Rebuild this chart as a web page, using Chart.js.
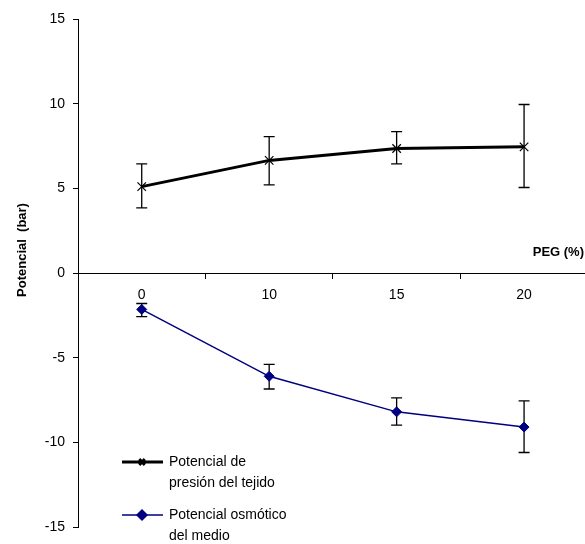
<!DOCTYPE html>
<html>
<head>
<meta charset="utf-8">
<script src="https://cdn.jsdelivr.net/npm/chart.js@4.4.1/dist/chart.umd.min.js"></script>
<style>
html, body { margin: 0; padding: 0; background: #fff; overflow: hidden; }
canvas { display: block; }
</style>
</head>
<body>
<canvas id="potChart" width="595" height="544"></canvas>
<script>
// PEG (%) categories
const pegLabels = ["0", "10", "15", "20"];

// Potencial de presión del tejido (bar)
const presion = [5.1, 6.65, 7.35, 7.45];
const presionLow = [3.85, 5.2, 6.45, 5.05];
const presionHigh = [6.45, 8.05, 8.35, 9.95];

// Potencial osmótico del medio (bar)
const osmotico = [-2.15, -6.1, -8.2, -9.1];
const osmoticoLow = [-2.58, -6.85, -8.98, -10.6];
const osmoticoHigh = [-1.8, -5.4, -7.37, -7.55];

const yTicks = [-15, -10, -5, 0, 5, 10, 15];

const FONT = "'Liberation Sans', Arial, sans-serif";

// error bars, drawn under the markers
const errorBars = {
  id: "errorBars",
  beforeDatasetsDraw(chart) {
    const c = chart.ctx;
    const x = chart.scales.x, y = chart.scales.y;
    const sets = [[presionLow, presionHigh], [osmoticoLow, osmoticoHigh]];
    c.save();
    c.strokeStyle = "#000";
    c.lineWidth = 1.3;
    sets.forEach(([lo, hi]) => {
      lo.forEach((v, i) => {
        const px = x.getPixelForValue(i);
        const y1 = y.getPixelForValue(v), y2 = y.getPixelForValue(hi[i]);
        c.beginPath();
        c.moveTo(px, y1); c.lineTo(px, y2);
        c.moveTo(px - 5.5, y1); c.lineTo(px + 5.5, y1);
        c.moveTo(px - 5.5, y2); c.lineTo(px + 5.5, y2);
        c.stroke();
      });
    });
    c.restore();
  }
};

// axis names and the two-line legend inside the plot
const extras = {
  id: "extras",
  afterDraw(chart) {
    const c = chart.ctx;
    const y0 = chart.scales.y.getPixelForValue(0);
    c.save();
    c.fillStyle = "#000";
    c.font = "bold 13px " + FONT;
    c.textAlign = "right";
    c.textBaseline = "middle";
    c.fillText("PEG (%)", 584, y0 - 21);

    // y axis title
    c.save();
    c.translate(22, 250);
    c.rotate(-Math.PI / 2);
    c.textAlign = "center";
    c.fillText("Potencial  (bar)", 0, 0);
    c.restore();

    c.font = "14px " + FONT;
    c.textAlign = "left";
    const items = [
      { lines: ["Potencial de", "presión del tejido"], color: "#000", width: 3, style: "crossRot", y: 462 },
      { lines: ["Potencial osmótico", "del medio"], color: "#000080", width: 1.5, style: "rectRot", y: 515 }
    ];
    items.forEach(it => {
      c.strokeStyle = it.color;
      c.lineWidth = it.width;
      c.beginPath();
      c.moveTo(122, it.y); c.lineTo(163, it.y);
      c.stroke();
      Chart.helpers.drawPoint(c, {
        pointStyle: it.style, radius: it.style === "rectRot" ? 5 : 4,
        borderWidth: 1.2
      }, 142, it.y);
      if (it.style === "rectRot") { c.fillStyle = "#000080"; c.fill(); }
      c.fillStyle = "#000";
      c.fillText(it.lines[0], 169, it.y);
      c.fillText(it.lines[1], 169, it.y + 21);
    });
    c.restore();
  }
};

new Chart(document.getElementById("potChart"), {
  type: "line",
  data: {
    labels: pegLabels,
    datasets: [
      {
        label: "Potencial de presión del tejido",
        data: presion,
        borderColor: "#000",
        borderWidth: 3,
        pointStyle: "crossRot",
        pointRadius: 6,
        pointBorderWidth: 1.2,
        pointBorderColor: "#000",
        pointBackgroundColor: "#000",
        tension: 0
      },
      {
        label: "Potencial osmótico del medio",
        data: osmotico,
        borderColor: "#000080",
        borderWidth: 1.5,
        pointStyle: "rectRot",
        pointRadius: 5,
        pointBorderWidth: 1,
        pointBorderColor: "#000080",
        pointBackgroundColor: "#000080",
        tension: 0
      }
    ]
  },
  options: {
    responsive: false,
    animation: false,
    layout: { padding: { top: 19, bottom: 17, left: 0, right: 0 } },
    plugins: {
      legend: { display: false },
      tooltip: { enabled: false }
    },
    scales: {
      x: {
        type: "category",
        position: { y: 0 },
        offset: true,
        grid: { offset: true, drawOnChartArea: false, tickLength: 5, color: "#000" },
        border: { color: "#000", width: 1 },
        ticks: { color: "#000", font: { family: FONT, size: 14 }, padding: 9, maxRotation: 0 }
      },
      y: {
        min: -15,
        max: 15,
        afterFit(scale) { scale.width = 78; },
        afterBuildTicks(scale) { scale.ticks = yTicks.map(v => ({ value: v })); },
        grid: { drawOnChartArea: false, tickLength: 5, color: "#000" },
        border: { color: "#000", width: 1 },
        ticks: { color: "#000", font: { family: FONT, size: 14 }, padding: 8 }
      }
    }
  },
  plugins: [errorBars, extras]
});
</script>
</body>
</html>
